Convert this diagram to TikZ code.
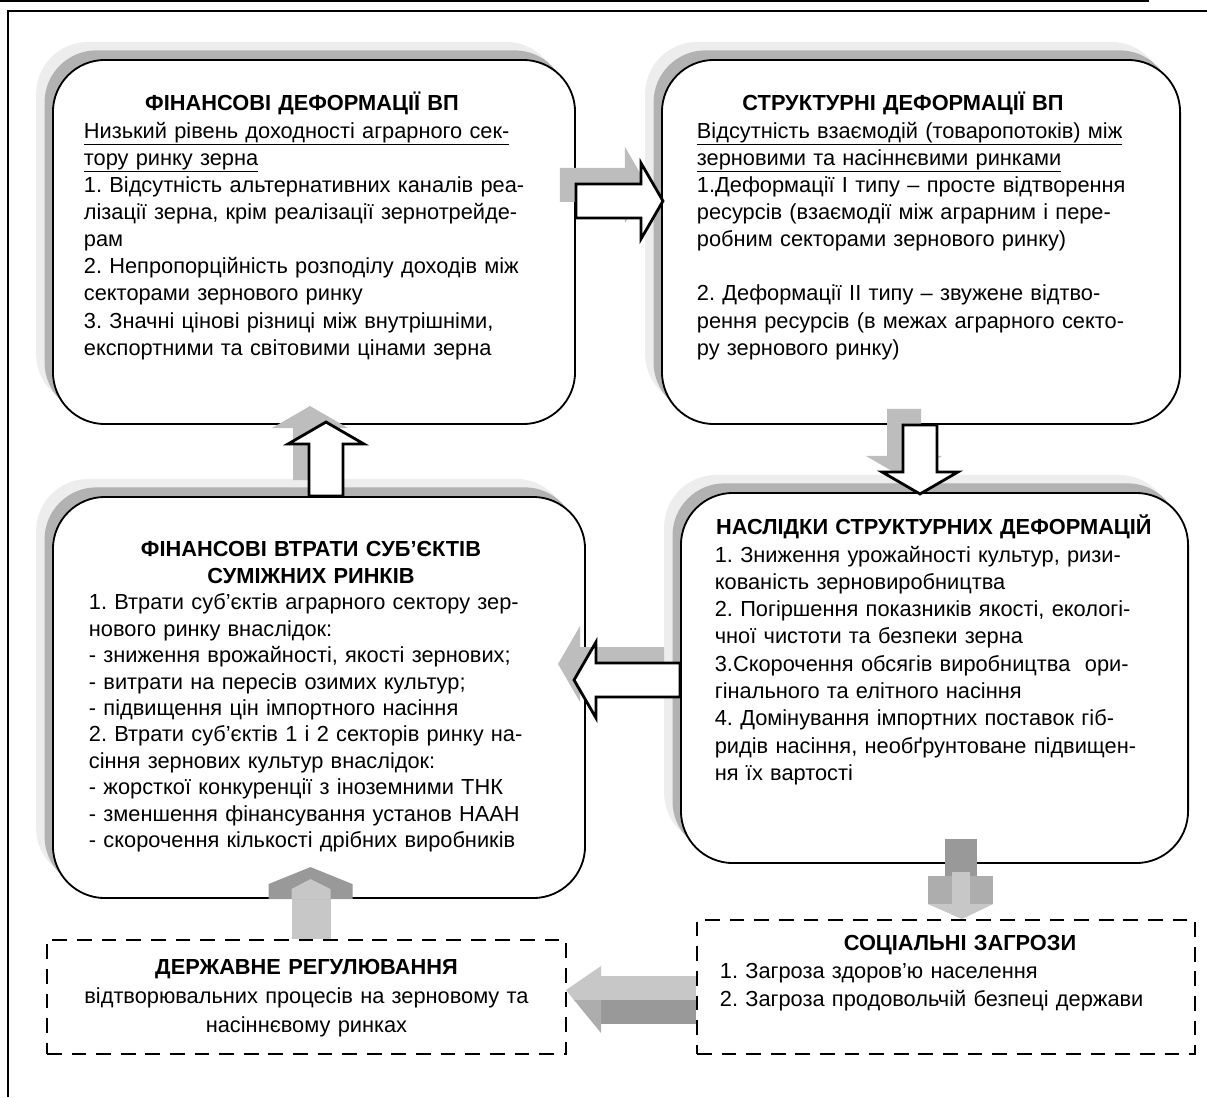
\documentclass[tikz,border=0pt]{standalone}
\usepackage{fontspec}
\setmainfont{Liberation Sans}
\frenchspacing
\usetikzlibrary{calc,positioning,shadows}

\newcommand{\arrowpath}[1]{(0,-17) -- (#1-22,-17) -- (#1-22,-38) -- (#1,0) -- (#1-22,38) -- (#1-22,17) -- (0,17) -- cycle}
\newcommand{\hollowarrow}[3]{%
  \begin{scope}[shift={(#1)}, xshift=-0.4cm, yshift=0.4cm, rotate=#2]
    \fill[arrowshade] \arrowpath{#3};
  \end{scope}
  \begin{scope}[shift={(#1)}, rotate=#2]
    \draw[arrowline] \arrowpath{#3};
  \end{scope}}

\begin{document}
\begin{tikzpicture}[x=0.025cm, y=-0.025cm,
    roundbox/.style={draw, line width=1.3pt, fill=white, rounded corners=1.3cm, inner sep=0pt,
        drop shadow={shadow xshift=-0.42cm, shadow yshift=0.45cm, fill=black!7, opacity=1},
        drop shadow={shadow xshift=-0.21cm, shadow yshift=0.24cm, fill=black!30, opacity=1}},
    dashbox/.style={draw, line width=1.3pt, dash pattern=on 10.5pt off 7pt, inner sep=0pt},
    txt/.style={inner sep=0pt, anchor=north, font=\fontsize{15.5}{19.3}\selectfont},
    arrowshade/.style={fill=black!26},
    arrowline/.style={draw, line width=2pt, fill=white, line join=miter},
    darkface/.style={fill=black!40},
    midface/.style={fill=black!32},
    lightface/.style={fill=black!22}
]
\useasboundingbox (0,0) rectangle (1207,1097);
\draw[line width=1.5pt] (0,1) -- (1149,1);
\draw[line width=1pt] (8,1097) -- (8,11) -- (1207,11);

\node[roundbox, minimum width=13.05cm, minimum height=9.1cm] (fin) at (314,242) {};
\node[roundbox, minimum width=12.95cm, minimum height=9.1cm] (str) at (921,242) {};
\node[roundbox, minimum width=13.3cm, minimum height=10.025cm] (loss) at (319,697.5) {};
\node[roundbox, minimum width=12.675cm, minimum height=9.25cm] (cons) at (934.5,678) {};
\node[dashbox, minimum width=12.45cm, minimum height=3.35cm] (soc) at (946,987) {};
\node[dashbox, minimum width=12.975cm, minimum height=2.85cm] (reg) at (306.5,997) {};

\node[txt, text width=11.2cm, below=0.815cm of fin.north, xshift=-0.15cm] (finT)
  {\centering\hspace*{-0.3cm}\strut\textbf{ФІНАНСОВІ ДЕФОРМАЦІЇ ВП}\par\raggedright
   \underline{Низький рівень доходності аграрного сек-}\\
   \underline{тору ринку зерна}\\
   1. Відсутність альтернативних каналів реа-\\
   лізації зерна, крім реалізації зернотрейде-\\
   рам\\
   2. Непропорційність розподілу доходів між\\
   секторами зернового ринку\\
   3. Значні цінові різниці між внутрішніми,\\
   експортними та світовими цінами зерна};
\node[txt, text width=11.4cm, below=0.815cm of str.north, xshift=0.1cm] (strT)
  {\centering\hspace*{-1.1cm}\strut\textbf{СТРУКТУРНІ ДЕФОРМАЦІЇ ВП}\par\raggedright
   \underline{Відсутність взаємодій (товаропотоків) між}\\
   \underline{зерновими та насіннєвими ринками}\\
   1.Деформації І типу – просте відтворення\\
   ресурсів (взаємодії між аграрним і пере-\\
   робним секторами зернового ринку)\\[19.3pt]
   2. Деформації ІІ типу – звужене відтво-\\
   рення ресурсів (в межах аграрного секто-\\
   ру зернового ринку)};
\node[txt, text width=11.3cm, below=1.05cm of loss.north, xshift=-0.1cm,
      font=\fontsize{15.5}{18.8}\selectfont] (lossT)
  {\centering\hspace*{-0.2cm}\strut\textbf{ФІНАНСОВІ ВТРАТИ СУБ’ЄКТІВ}\\\hspace*{-0.2cm}\textbf{СУМІЖНИХ РИНКІВ}\par\raggedright
   1. Втрати суб’єктів аграрного сектору зер-\\
   нового ринку внаслідок:\\
   - зниження врожайності, якості зернових;\\
   - витрати на пересів озимих культур;\\
   - підвищення цін імпортного насіння\\
   2. Втрати суб’єктів 1 і 2 секторів ринку на-\\
   сіння зернових культур внаслідок:\\
   - жорсткої конкуренції з іноземними ТНК\\
   - зменшення фінансування установ НААН\\
   - скорочення кількості дрібних виробників};
\node[txt, text width=11.1cm, below=0.57cm of cons.north, xshift=0.06cm,
      font=\fontsize{15.5}{19.4}\selectfont] (consT)
  {\centering\hspace*{-0.15cm}\strut\textbf{НАСЛІДКИ СТРУКТУРНИХ ДЕФОРМАЦІЙ}\par\raggedright
   1. Зниження урожайності культур, ризи-\\
   кованість зерновиробництва\\
   2. Погіршення показників якості, екологі-\\
   чної чистоти та безпеки зерна\\
   3.Скорочення обсягів виробництва \ ори-\\
   гінального та елітного насіння\\
   4. Домінування імпортних поставок гіб-\\
   ридів насіння, необґрунтоване підвищен-\\
   ня їх вартості};
\node[txt, text width=12cm, below=0.29cm of soc.north, xshift=0.35cm,
      font=\fontsize{15.5}{20}\selectfont] (socT)
  {\centering\strut\textbf{СОЦІАЛЬНІ ЗАГРОЗИ}\par\raggedright
   1. Загроза здоров’ю населення\\
   2. Загроза продовольчій безпеці держави};
\node[txt, text width=12cm, align=center, below=0.365cm of reg.north,
      font=\fontsize{15.5}{20.6}\selectfont] (regT)
  {\strut\textbf{ДЕРЖАВНЕ РЕГУЛЮВАННЯ}\\
   відтворювальних процесів на зерновому та\\
   насіннєвому ринках};

\coordinate (finstr) at ($(fin.east)+(0,-41)$);
\coordinate (strcons) at ($(str.south)+(-1,0)$);
\coordinate (lossfin) at ($(loss.north)+(7,0)$);
\coordinate (consloss) at ($(cons.west)+(0,2)$);
\hollowarrow{finstr}{0}{87}
\hollowarrow{strcons}{-90}{69}
\hollowarrow{lossfin}{90}{74}
\hollowarrow{consloss}{180}{106}

\coordinate (socin) at ($(soc.north)+(16,0)$);
\begin{scope}[shift={(socin)}]
  \fill[darkface] (-17,-80) rectangle (15,-43);
  \fill[midface] (-34,-43) rectangle (31,-15);
  \fill[lightface] (-10,-47) rectangle (8,-15);
  \fill[lightface] (-34,-15) -- (31,-15) -- (0,0) -- cycle;
\end{scope}
\coordinate (regout) at ($(reg.north)+(4,0)$);
\begin{scope}[shift={(regout)}]
  \fill[lightface] (-19,0) rectangle (20,-40);
  \fill[darkface] (-42,-40) -- (-42,-55) -- (0,-72) -- (42,-55) -- (42,-40) -- cycle;
  \fill[lightface] (-19,-40) -- (-19,-50) -- (0,-60) -- (20,-50) -- (20,-40) -- cycle;
\end{scope}
\coordinate (socout) at ($(soc.west)+(0,13)$);
\begin{scope}[shift={(socout)}]
  \fill[lightface] (0,-24) rectangle (-95,0);
  \fill[darkface] (0,0) rectangle (-95,24);
  \fill[lightface] (-95,-34) -- (-130,-10) -- (-122,0) -- (-95,0) -- cycle;
  \fill[midface] (-122,0) -- (-95,0) -- (-95,33) -- cycle;
\end{scope}
\end{tikzpicture}
\end{document}
